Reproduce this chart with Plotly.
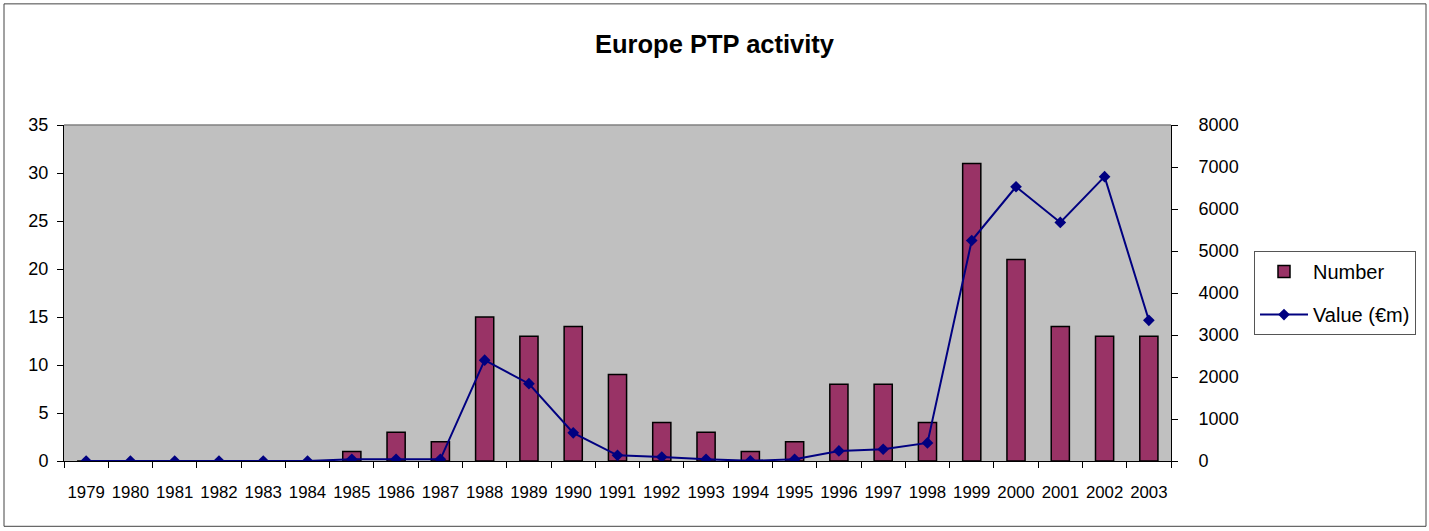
import plotly.graph_objects as go

years = [str(y) for y in range(1979, 2004)]
number = [0, 0, 0, 0, 0, 0, 1, 3, 2, 15, 13, 14, 9, 4, 3, 1, 2, 8, 8, 4, 31, 21, 14, 13, 13]
value_em = [0, 0, 0, 0, 0, 0, 40, 40, 40, 2400, 1840, 670, 135, 95, 40, 5, 40, 240, 280, 430, 5250, 6530, 5680, 6770, 3350]

W, H = 1429, 531
L, R, T, B = 64, 1171, 124.5, 461.5
pw, ph = R - L, B - T

def px(x):
    return (x - L) / pw

def py(y):
    return (B - y) / ph

FONT = "Liberation Sans, Arial, sans-serif"

fig = go.Figure()
fig.add_trace(go.Bar(
    x=years, y=number, name="Number",
    marker=dict(color="#993366", line=dict(color="#000000", width=1.5)),
    legendgroup="a", yaxis="y",
))
fig.add_trace(go.Scatter(
    x=years, y=value_em, name="Value (€m)", mode="lines+markers",
    line=dict(color="#000080", width=2),
    marker=dict(symbol="diamond", size=9, color="#000080"),
    legendgroup="b", yaxis="y2",
))

fig.update_layout(
    width=W, height=H,
    margin=dict(l=L, r=W - R, t=T, b=H - B, autoexpand=False),
    paper_bgcolor="white", plot_bgcolor="#C0C0C0",
    font=dict(family=FONT, size=17, color="black"),
    title=dict(text="<b>Europe PTP activity</b>", x=0.5, xref="container", xanchor="center",
               y=1 - 44 / H, yref="container", yanchor="middle",
               font=dict(size=25.5, family=FONT, color="black")),
    bargap=0.59,
    showlegend=True,
    legend=dict(x=px(1254), y=py(251), xanchor="left", yanchor="top",
                bordercolor="#555555", borderwidth=1, bgcolor="white",
                font=dict(size=20, family=FONT), traceorder="grouped", tracegroupgap=14,
                itemwidth=48),
    xaxis=dict(type="category", range=[-0.5, len(years) - 0.5], tickson="boundaries",
               ticks="outside", ticklen=6,
               tickcolor="black", showline=True, linecolor="black", linewidth=1,
               showgrid=False, ticklabelstandoff=16, tickfont=dict(size=16.8),
               tickangle=0, automargin=False),
    yaxis=dict(range=[0, 35], dtick=5, ticks="outside", ticklen=6, tickcolor="black",
               showline=True, linecolor="black", linewidth=1, showgrid=False, zeroline=False,
               ticklabelstandoff=5, tickfont=dict(size=18), automargin=False),
    yaxis2=dict(range=[0, 8000], dtick=1000, overlaying="y", side="right", ticks="outside",
                ticklen=6, tickcolor="black", showline=True, linecolor="black", linewidth=1,
                showgrid=False, zeroline=False, ticklabelstandoff=17, tickfont=dict(size=18),
                automargin=False),
    shapes=[
        dict(type="line", xref="paper", yref="paper", x0=0, x1=1, y0=1, y1=1,
             line=dict(color="#808080", width=1.5)),
        dict(type="rect", xref="paper", yref="paper",
             x0=px(4), x1=px(1426), y0=py(527), y1=py(3),
             line=dict(color="#444444", width=1), layer="below"),
    ],
)

fig.write_html("out.html", config={"displayModeBar": False},
               post_script="document.body.style.margin='0px';")
